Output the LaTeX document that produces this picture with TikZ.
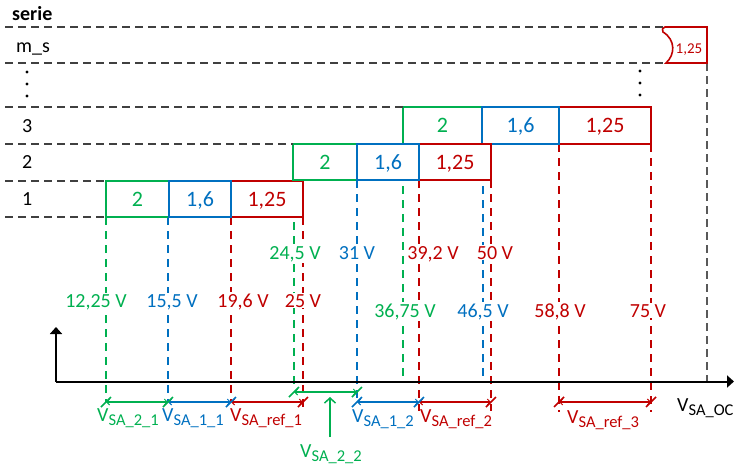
\documentclass[tikz,border=0pt]{standalone}
\usepackage{fontspec}
\setmainfont{Carlito}
\usetikzlibrary{arrows.meta,backgrounds}
\definecolor{gcol}{HTML}{00B050}
\definecolor{bcol}{HTML}{0070C0}
\definecolor{rcol}{HTML}{C00000}
\definecolor{dgray}{HTML}{404040}
\definecolor{mgray}{HTML}{595959}
\newcommand\vsub[1]{V{\fontsize{16.5}{16.5}\selectfont\raisebox{-4.5pt}{SA\_#1}}}
\begin{document}
\begin{tikzpicture}[x=1pt,y=-1pt,
  rowline/.style={dgray, line width=1.2pt, dash pattern=on 8pt off 5pt},
  vdash/.style={line width=1.2pt, dash pattern=on 8pt off 6pt},
  ocdash/.style={mgray, line width=1.8pt, dash pattern=on 8pt off 5pt},
  box/.style={draw, line width=2pt, fill=white, anchor=north west, inner sep=0pt, outer sep=0pt,
    minimum height=36pt, font=\fontsize{22}{22}\selectfont, text height=14pt, text depth=0pt},
  gbox/.style={box, draw=gcol, text=gcol},
  bbox/.style={box, draw=bcol, text=bcol},
  rbox/.style={box, draw=rcol, text=rcol},
  vlab/.style={font=\fontsize{20}{20}\selectfont, fill=white, inner sep=1pt, anchor=base},
  rowlab/.style={font=\fontsize{20}{20}\selectfont, inner sep=0pt, anchor=base west},
  vsalab/.style={font=\fontsize{20}{20}\selectfont, inner sep=0pt, anchor=base west},
  dim/.style={line width=1.5pt, {Straight Barb[length=3pt,width=6pt,line width=1pt]}-{Straight Barb[length=3pt,width=6pt,line width=1pt]}},
  slash/.pic={\draw[line width=1.5pt] (-5,5) -- (5,-5);},
  axis/.style={line width=2pt, -{Triangle[length=7pt,width=12pt]}}
]
\useasboundingbox (0,0) rectangle (734,466);

% reference coordinates
\coordinate (dA) at (0,402);
\coordinate (o) at (56,381.5);
\coordinate (xend) at (734,381.5);
\coordinate (yend) at (56,327);

% row labels
\node[font=\bfseries\fontsize{20}{20}\selectfont, inner sep=0pt, anchor=base west] (serie) at (12,20) {serie};
\node[rowlab] (lms) at (16,52) {m\_s};
\node[rowlab] (l3) at (22,132) {3};
\node[rowlab] (l2) at (22,168) {2};
\node[rowlab] (l1) at (22,205) {1};

% dots
\foreach \yy in {72,84,96} \fill (27,\yy) circle (1.6pt);
\foreach \yy in {71,83,95} \fill (640,\yy) circle (1.6pt);

% row 1
\path
  (106,181) node[gbox, minimum width=63pt] (g1) {2}
  (231,181) node[rbox, minimum width=72pt] (r1) {1,25}
  (169,181) node[bbox, minimum width=62pt] (b1) {1,6};
% row 3
\path
  (403,107) node[gbox, minimum width=79pt, minimum height=37pt] (g3) {2}
  (559,107) node[rbox, minimum width=92pt, minimum height=37pt] (r3) {1,25}
  (482,107) node[bbox, minimum width=77pt, minimum height=37pt] (b3) {1,6};
% row 2
\path
  (293,144) node[gbox, minimum width=64pt] (g2) {2}
  (419,144) node[rbox, minimum width=72pt] (r2) {1,25}
  (357,144) node[bbox, minimum width=62pt] (b2) {1,6};

% dashed verticals (behind boxes)
\begin{scope}[on background layer]
\draw[vdash, gcol] (g1.south west) -- (g1.south west |- dA);
\draw[vdash, bcol] ([xshift=-1pt]b1.south west) -- ([xshift=-1pt]b1.south west |- dA);
\draw[vdash, rcol] (r1.south west) -- (r1.south west |- dA);
\draw[vdash, rcol] (r1.south east) -- ([yshift=-6pt]r1.south east |- dA);
\draw[vdash, gcol] ([xshift=1pt]g2.south west) -- (294,386);
\draw[vdash, bcol] (b2.south west) -- (b2.south west |- dA);
\draw[vdash, rcol] (r2.south west) -- ([yshift=-9pt]r2.south west |- dA);
\draw[vdash, rcol] (r2.south east) -- ([yshift=-9pt]r2.south east |- dA);
\draw[vdash, gcol] (g3.south west) -- (g3.south west |- o);
\draw[vdash, bcol] ([xshift=1pt]b3.south west) -- ([xshift=1pt]b3.south west |- o);
\draw[vdash, rcol] (r3.south west) -- ([yshift=-10pt]r3.south west |- dA);
\draw[vdash, rcol] (r3.south east) -- ([yshift=-10pt]r3.south east |- dA);
\end{scope}

% horizontal dashed row lines
\draw[rowline] (5,27) -- (665,27);
\draw[rowline] (5,63) -- (665,63);
\draw[rowline] (5,107) -- (g3.north west);
\draw[rowline] (5,144) -- (g2.north west);
\draw[rowline] (5,181) -- (g1.north west);
\draw[rowline] (5,217) -- (g1.south west);

% m_s wave box
\draw[ocdash] (707,63) -- (707,381);
\draw[rcol, line width=1.6pt, fill=white] (665,27) -- (707,27) -- (707,63) -- (666,63)
  .. controls (675,55) and (676,40) .. (663,32) .. controls (662,29) .. (665,27) -- cycle;
\node[text=rcol, font=\fontsize{15}{15}\selectfont, inner sep=0pt, anchor=base] (ms) at (689,53) {1,25};

% voltage labels
\node[vlab, text=gcol] (v1) at (295,259) {24,5 V};
\node[vlab, text=bcol] (v2) at (357,259) {31 V};
\node[vlab, text=rcol] (v3) at (433,259) {39,2 V};
\node[vlab, text=rcol] (v4) at (495,259) {50 V};
\node[vlab, text=gcol] (v5) at (96,307) {12,25 V};
\node[vlab, text=bcol] (v6) at (172,307) {15,5 V};
\node[vlab, text=rcol] (v7) at (243,307) {19,6 V};
\node[vlab, text=rcol] (v8) at (303,307) {25 V};
\node[vlab, text=gcol] (v9) at (405,317) {36,75 V};
\node[vlab, text=bcol] (v10) at (483,317) {46,5 V};
\node[vlab, text=rcol] (v11) at (560,317) {58,8 V};
\node[vlab, text=rcol] (v12) at (648,317) {75 V};

% axes
\draw[axis] (o) -- (xend);
\draw[axis] (o) -- (yend);

% dimension lines
\coordinate (p1) at (106,402);
\coordinate (p2) at (168,402);
\coordinate (p3) at (231,402);
\coordinate (p4) at (303,402);
\coordinate (q1) at (294,392);
\coordinate (q2) at (357,392);
\coordinate (p5) at (357,402);
\coordinate (p6) at (419,402);
\coordinate (p7) at (491,402);
\coordinate (p8) at (559,402);
\coordinate (p9) at (651,402);
\draw[dim, gcol] (p1) -- (p2);
\draw[dim, bcol] (p2) -- (p3);
\draw[dim, rcol] (p3) -- (p4);
\draw[dim, gcol] (q1) -- (q2);
\draw[dim, bcol] (p5) -- (p6);
\draw[dim, rcol] (p6) -- (p7);
\draw[dim, rcol] (p8) -- (p9);
\pic[gcol] at (p1) {slash};
\pic[gcol] at (p2) {slash};
\pic[bcol] at (p3) {slash};
\pic[rcol] at (p4) {slash};
\pic[gcol] at (q1) {slash};
\pic[gcol] at (q2) {slash};
\pic[bcol] at (p5) {slash};
\pic[bcol] at (p6) {slash};
\pic[rcol] at (p7) {slash};
\pic[rcol] at (p8) {slash};
\pic[rcol] at (p9) {slash};

% V_SA labels
\node[vsalab, text=gcol] (s21) at (97,421) {\vsub{2\_1}};
\node[vsalab, text=bcol] (s11) at (162,421) {\vsub{1\_1}};
\node[vsalab, text=rcol] (sr1) at (230,421) {\vsub{ref\_1}};
\node[vsalab, text=bcol] (s12) at (352,422) {\vsub{1\_2}};
\node[vsalab, text=rcol] (sr2) at (420,422) {\vsub{ref\_2}};
\node[vsalab, text=rcol] (sr3) at (567,423) {\vsub{ref\_3}};
\node[vsalab, text=black] (soc) at (677,411) {\vsub{OC}};
\node[vsalab, text=gcol] (s22) at (300,457) {\vsub{2\_2}};
\coordinate (a22) at (330,437);
\coordinate (t22) at (330,397);
\draw[gcol, line width=1.5pt, -{Straight Barb[length=5pt,width=11pt]}] (a22) -- (t22);
\end{tikzpicture}
\end{document}
